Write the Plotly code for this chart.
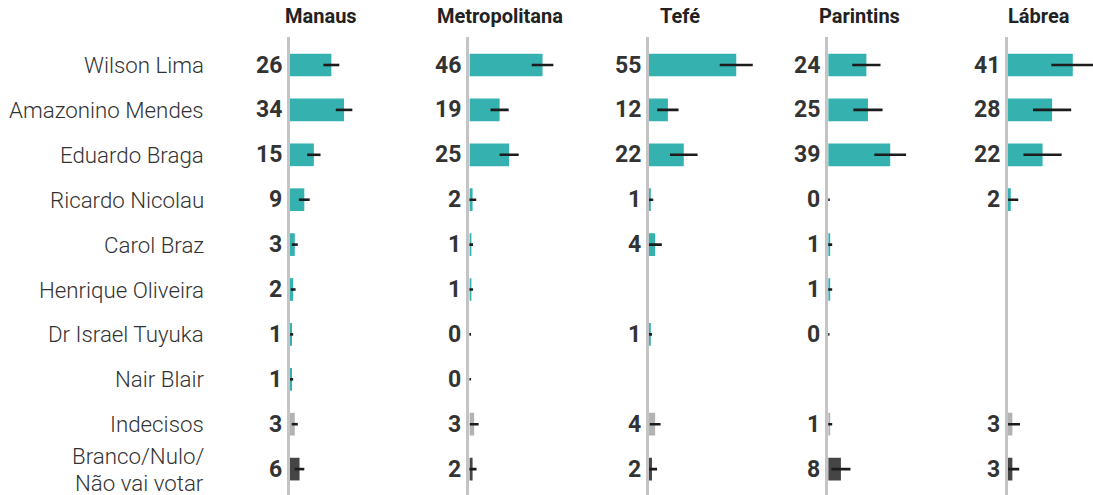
import plotly.graph_objects as go

categories = ["Wilson Lima", "Amazonino Mendes", "Eduardo Braga", "Ricardo Nicolau",
              "Carol Braz", "Henrique Oliveira", "Dr Israel Tuyuka", "Nair Blair",
              "Indecisos", "Branco/Nulo/<br>Não vai votar"]
regions = ["Manaus", "Metropolitana", "Tefé", "Parintins", "Lábrea"]

manaus = [26, 34, 15, 9, 3, 2, 1, 1, 3, 6]
manaus_err = [5, 5.2, 4.2, 3.4, 1.9, 1.5, 1, 1, 1.9, 3]
metropolitana = [46, 19, 25, 2, 1, 1, 0, 0, 3, 2]
metropolitana_err = [6.8, 5.7, 6, 2.3, 1.3, 1.3, 1, 1, 2.8, 2.5]
tefe = [55, 12, 22, 1, 4, None, 1, None, 4, 2]
tefe_err = [10.4, 6.7, 8.7, 1.8, 4.2, None, 1, None, 3.4, 3.2]
parintins = [24, 25, 39, 0, 1, 1, 0, None, 1, 8]
parintins_err = [8.9, 9.2, 10, 1, 1.5, 1.5, 0.8, None, 1.5, 6]
labrea = [41, 28, 22, 2, None, None, None, None, 3, 3]
labrea_err = [13.5, 12, 12, 4.7, None, None, None, None, 4.8, 4.3]

values = [manaus, metropolitana, tefe, parintins, labrea]
errors = [manaus_err, metropolitana_err, tefe_err, parintins_err, labrea_err]

TEAL = "#35b1b0"
GREY = "#b3b3b3"
DARK = "#454545"
row_colors = [TEAL] * 8 + [GREY, DARK]
TEXT = "#333333"

W, H = 1093, 495
MT = 37
PX_PER_UNIT = 1.59
rows = list(range(len(categories)))
row_px = 44.9
first_row_px = 65
plot_h = H - MT
y_top = -(first_row_px - MT) / row_px
y_bot = y_top + plot_h / row_px

fig = go.Figure()
layout = dict(width=W, height=H, margin=dict(l=0, r=0, t=MT, b=0),
              plot_bgcolor="white", paper_bgcolor="white", showlegend=False)
annotations = []

for i, (name, vals, errs) in enumerate(zip(regions, values, errors)):
    sfx = "" if i == 0 else str(i + 1)
    x0 = 290 + 179.4 * i
    x1 = min(x0 + 175, W)
    xr = (x1 - x0) / PX_PER_UNIT
    fig.add_trace(go.Bar(
        x=vals, y=rows, orientation="h", width=0.505,
        marker=dict(color=row_colors, line=dict(width=0)),
        error_x=dict(type="data", array=errs, visible=True, width=0,
                     thickness=2.6, color="#1c1c1c"),
        xaxis="x" + sfx, yaxis="y" + sfx, hoverinfo="skip"))
    layout["xaxis" + sfx] = dict(domain=[x0 / W, x1 / W], range=[0, xr],
                                 showgrid=False, zeroline=False, showticklabels=False,
                                 anchor="y" + sfx, fixedrange=True)
    layout["yaxis" + sfx] = dict(domain=[0, 1], range=[y_bot, y_top], showgrid=False,
                                 zeroline=False, showline=True, linecolor="#c4c4c4",
                                 linewidth=3, anchor="x" + sfx, ticks="",
                                 showticklabels=False, fixedrange=True)
    for r, v in zip(rows, vals):
        if v is None:
            continue
        annotations.append(dict(x=0, y=r, xref="x" + sfx, yref="y" + sfx,
                                text=str(v), showarrow=False, xanchor="right",
                                yanchor="middle", xshift=-6,
                                font=dict(family="Roboto", size=23, color=TEXT, weight=700)))
    annotations.append(dict(x=(x0 + 31) / W, y=1, xref="paper", yref="paper",
                            yshift=21, text=name, showarrow=False, xanchor="center",
                            yanchor="middle",
                            font=dict(family="Roboto", size=20, color="#222222", weight=700)))

label_font = dict(family="Roboto", size=22.3, color=TEXT, weight=300)
for r, cat in zip(rows, categories):
    parts = cat.split("<br>")
    if len(parts) == 1:
        annotations.append(dict(x=205 / W, y=r, xref="paper", yref="y",
                                text=cat, showarrow=False, xanchor="right",
                                yanchor="middle", borderpad=0, font=label_font))
    else:
        n = len(parts)
        for k, part in enumerate(parts):
            annotations.append(dict(x=205 / W, y=r, xref="paper", yref="y",
                                    text=part, showarrow=False, xanchor="right",
                                    yanchor="middle", borderpad=0, font=label_font,
                                    yshift=(n - 1 - 2 * k) * 13.5 - 0.5))

layout["annotations"] = annotations
fig.update_layout(**layout)
fig.write_html("out.html", config={"displayModeBar": False},
               post_script="document.body.style.margin='0';document.body.style.overflow='hidden';")
